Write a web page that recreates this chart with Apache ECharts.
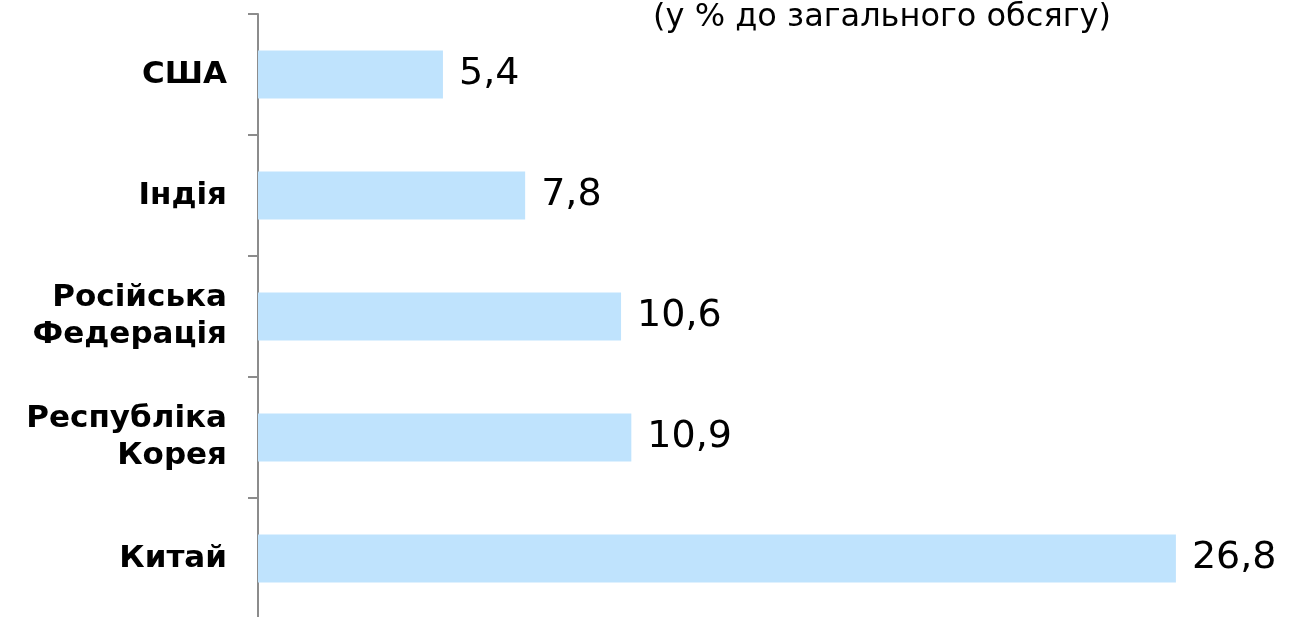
<!DOCTYPE html>
<html><head><meta charset="utf-8">
<script src="https://cdn.jsdelivr.net/npm/echarts@6/dist/echarts.min.js"></script>
<style>html,body{margin:0;padding:0;background:#fff}#c{width:1296px;height:617px}</style>
</head><body><div id="c"></div>
<script>
const categories = ['Китай', 'Республіка\nКорея', 'Російська\nФедерація', 'Індія', 'США'];
const values = [26.8, 10.9, 10.6, 7.8, 5.4];
const titleText = '(у % до загального обсягу)';

const chart = echarts.init(document.getElementById('c'));
chart.setOption({
  animation: false,
  title: {
    text: titleText, left: 877, top: -3, textAlign: 'center',
    textStyle: { fontFamily: 'DejaVu Sans', fontWeight: 'normal', fontSize: 32, color: '#000' }
  },
  grid: { left: 258, width: 1027.5, top: 14, height: 605, containLabel: false, outerBoundsMode: 'none' },
  xAxis: { type: 'value', min: 0, max: 30, show: false },
  yAxis: {
    type: 'category', data: categories,
    axisLine: { show: true, lineStyle: { color: '#8c8c8c', width: 2 } },
    axisTick: { show: true, length: 10, lineStyle: { color: '#8c8c8c', width: 2 } },
    axisLabel: { margin: 31, fontFamily: 'DejaVu Sans', fontWeight: 'bold', fontSize: 31, color: '#000', lineHeight: 37, align: 'right' }
  },
  series: [{
    type: 'bar', data: values, barWidth: 48,
    itemStyle: { color: '#bfe3fd' },
    label: { show: true, position: 'right', distance: 16, fontFamily: 'DejaVu Sans', fontSize: 38, color: '#000',
      formatter: p => String(p.value).replace('.', ',') }
  }]
});
</script></body></html>
